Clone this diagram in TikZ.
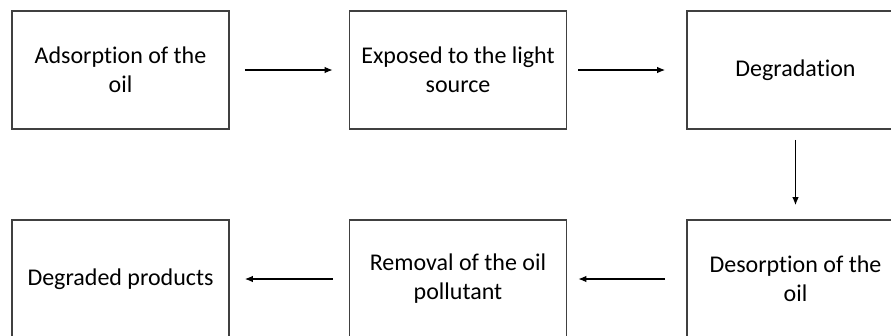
\documentclass[tikz,border=0pt]{standalone}
\usepackage{fontspec}
\setmainfont{Carlito}[Ligatures={NoCommon,NoRequired,NoContextual}]
\usepackage{tikz}
\usetikzlibrary{positioning,arrows.meta}

\begin{document}
\begin{tikzpicture}[x=1pt,y=-1pt,
  stage/.style={draw=black!75, line width=1.6pt, minimum width=217pt, minimum height=118pt,
    align=center, font=\fontsize{24}{29}\selectfont, inner sep=0pt},
  flow/.style={-{Latex[length=8pt,width=6.5pt]}, line width=1.3pt}
]
\useasboundingbox (0,0) rectangle (891,335);
\clip (0,0) rectangle (891,335);

% Top row
\node[stage] (ads) at (120.5,70) {Adsorption of the\\oil};
\node[stage] (exp) at (458,70) {Exposed to the light\\source};
\node[stage] (deg) at (795.5,70) {Degradation};

% Bottom row
\node[stage] (prod) at (120.5,279) {Degraded products};
\node[stage] (rem) at (458,279) {Removal of the oil\\pollutant};
\node[stage] (des) at (795.5,279) {Desorption of the\\oil};

% Connectors
\draw[flow] ([xshift=15pt]ads.east) -- ([xshift=-16pt]exp.west);
\draw[flow] ([xshift=11pt]exp.east) -- ([xshift=-21pt]deg.west);
\draw[flow] ([yshift=-10pt]deg.south) -- ([yshift=14pt]des.north);
\draw[flow] ([xshift=-21pt]des.west) -- ([xshift=11pt]rem.east);
\draw[flow] ([xshift=-16pt]rem.west) -- ([xshift=15pt]prod.east);

\end{tikzpicture}
\end{document}
